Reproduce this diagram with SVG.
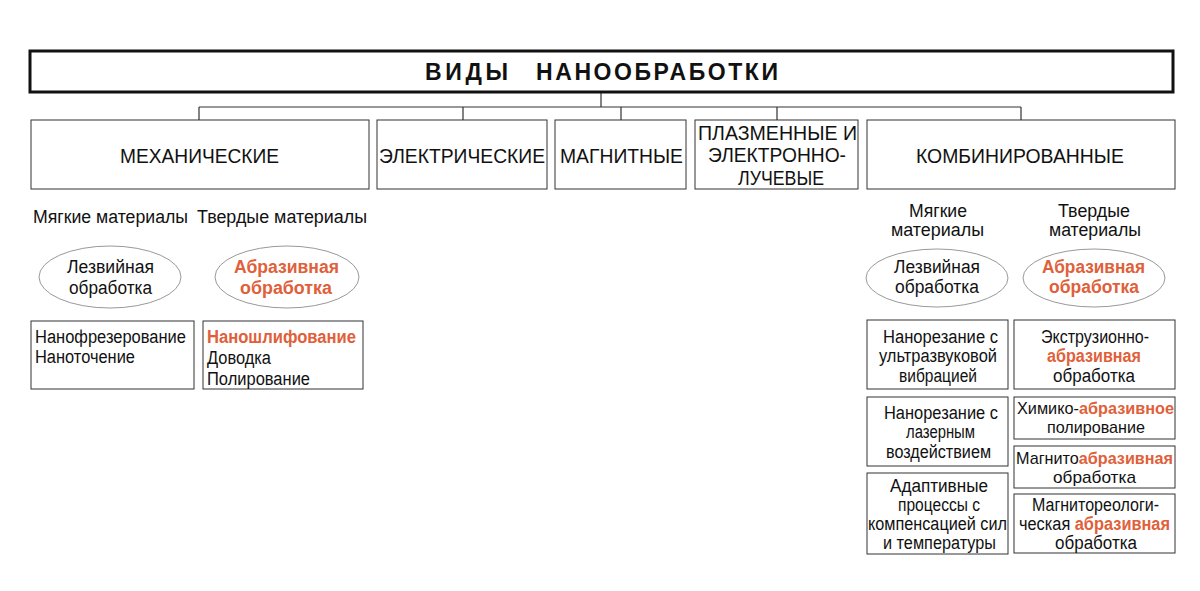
<svg xmlns="http://www.w3.org/2000/svg" width="1200" height="591" viewBox="0 0 1200 591">
<style>
text{font-family:"Liberation Sans",Arial,sans-serif;fill:#111;}
.t{font-size:18px;}
.s{font-size:17px;}
.h{font-size:21px;}
.o{fill:#e0603a;font-weight:bold;}
.box{fill:#fff;stroke:#333;stroke-width:1;}
.ell{fill:#fff;stroke:#999;stroke-width:1;}
.con{fill:none;stroke:#333;stroke-width:1.2;}
</style>
<rect width="1200" height="591" fill="#fff"/>
<g id="connectors">
<path class="con" d="M601 92V107M199 107H1021M199 107V120M463 107V120M621 107V120M777 107V120M1021 107V120"/>
</g>
<g id="title">
<rect x="30" y="51" width="1143" height="41" fill="#fff" stroke="#111" stroke-width="3"/>
<text x="425" y="80" font-size="23" font-weight="bold" textLength="83" lengthAdjust="spacing">ВИДЫ</text>
<text x="536" y="80" font-size="23" font-weight="bold" textLength="242" lengthAdjust="spacing">НАНООБРАБОТКИ</text>
</g>
<g id="mech">
<rect class="box" x="31" y="120" width="338" height="69"/>
<text class="h" x="120" y="163" textLength="159" lengthAdjust="spacingAndGlyphs">МЕХАНИЧЕСКИЕ</text>
</g>
<g id="elec">
<rect class="box" x="377" y="120" width="170" height="69"/>
<text class="h" x="379" y="163" textLength="166" lengthAdjust="spacingAndGlyphs">ЭЛЕКТРИЧЕСКИЕ</text>
</g>
<g id="magn">
<rect class="box" x="555" y="120" width="131" height="69"/>
<text class="h" x="560" y="163" textLength="123" lengthAdjust="spacingAndGlyphs">МАГНИТНЫЕ</text>
</g>
<g id="plasma">
<rect class="box" x="695" y="120" width="163" height="69"/>
<text class="h" x="698" y="140" textLength="159" lengthAdjust="spacingAndGlyphs">ПЛАЗМЕННЫЕ И</text>
<text class="h" x="708" y="162" textLength="138" lengthAdjust="spacingAndGlyphs">ЭЛЕКТРОННО-</text>
<text class="h" x="738" y="185" textLength="86" lengthAdjust="spacingAndGlyphs">ЛУЧЕВЫЕ</text>
</g>
<g id="comb">
<rect class="box" x="867" y="120" width="308" height="69"/>
<text class="h" x="916" y="163" textLength="208" lengthAdjust="spacingAndGlyphs">КОМБИНИРОВАННЫЕ</text>
</g>
<g id="mech-soft-label">
<text class="t" x="33" y="223" textLength="155" lengthAdjust="spacingAndGlyphs">Мягкие материалы</text>
</g>
<g id="mech-hard-label">
<text class="t" x="197" y="223" textLength="170" lengthAdjust="spacingAndGlyphs">Твердые материалы</text>
</g>
<g id="mech-blade">
<ellipse class="ell" cx="110" cy="277" rx="71" ry="31"/>
<text class="t" x="67" y="273" textLength="87" lengthAdjust="spacingAndGlyphs">Лезвийная</text>
<text class="t" x="69" y="294" textLength="83" lengthAdjust="spacingAndGlyphs">обработка</text>
</g>
<g id="mech-abr">
<ellipse class="ell" cx="287" cy="277" rx="72" ry="31"/>
<text class="t o" x="234" y="273" textLength="105" lengthAdjust="spacingAndGlyphs">Абразивная</text>
<text class="t o" x="240" y="294" textLength="92" lengthAdjust="spacingAndGlyphs">обработка</text>
</g>
<g id="mech-soft-list">
<rect class="box" x="31" y="321" width="163" height="68"/>
<text class="t" x="35" y="343" textLength="151" lengthAdjust="spacingAndGlyphs">Нанофрезерование</text>
<text class="t" x="35" y="363" textLength="100" lengthAdjust="spacingAndGlyphs">Наноточение</text>
</g>
<g id="mech-hard-list">
<rect class="box" x="203" y="321" width="160" height="68"/>
<text class="t o" x="207" y="343" textLength="149" lengthAdjust="spacingAndGlyphs">Наношлифование</text>
<text class="t" x="207" y="364" textLength="64" lengthAdjust="spacingAndGlyphs">Доводка</text>
<text class="t" x="207" y="385" textLength="103" lengthAdjust="spacingAndGlyphs">Полирование</text>
</g>
<g id="comb-soft-label">
<text class="t" x="909" y="217" textLength="58" lengthAdjust="spacingAndGlyphs">Мягкие</text>
<text class="t" x="891" y="236" textLength="93" lengthAdjust="spacingAndGlyphs">материалы</text>
</g>
<g id="comb-hard-label">
<text class="t" x="1058" y="217" textLength="72" lengthAdjust="spacingAndGlyphs">Твердые</text>
<text class="t" x="1049" y="236" textLength="92" lengthAdjust="spacingAndGlyphs">материалы</text>
</g>
<g id="comb-blade">
<ellipse class="ell" cx="937" cy="278" rx="71" ry="29"/>
<text class="t" x="894" y="273" textLength="86" lengthAdjust="spacingAndGlyphs">Лезвийная</text>
<text class="t" x="895" y="293" textLength="84" lengthAdjust="spacingAndGlyphs">обработка</text>
</g>
<g id="comb-abr">
<ellipse class="ell" cx="1094" cy="278" rx="71" ry="29"/>
<text class="t o" x="1042" y="273" textLength="103" lengthAdjust="spacingAndGlyphs">Абразивная</text>
<text class="t o" x="1049" y="293" textLength="90" lengthAdjust="spacingAndGlyphs">обработка</text>
</g>
<g id="ultra">
<rect class="box" x="867" y="320" width="141" height="69"/>
<text class="t" x="883" y="343" textLength="115" lengthAdjust="spacingAndGlyphs">Нанорезание с</text>
<text class="t" x="879" y="362" textLength="118" lengthAdjust="spacingAndGlyphs">ультразвуковой</text>
<text class="t" x="899" y="382" textLength="78" lengthAdjust="spacingAndGlyphs">вибрацией</text>
</g>
<g id="laser">
<rect class="box" x="867" y="397" width="141" height="69"/>
<text class="t" x="884" y="419" textLength="114" lengthAdjust="spacingAndGlyphs">Нанорезание с</text>
<text class="t" x="906" y="438" textLength="69" lengthAdjust="spacingAndGlyphs">лазерным</text>
<text class="t" x="886" y="458" textLength="105" lengthAdjust="spacingAndGlyphs">воздействием</text>
</g>
<g id="adapt">
<rect class="box" x="867" y="473" width="141" height="81"/>
<text class="t" x="890" y="492" textLength="98" lengthAdjust="spacingAndGlyphs">Адаптивные</text>
<text class="t" x="898" y="511" textLength="82" lengthAdjust="spacingAndGlyphs">процессы с</text>
<text class="t" x="868" y="530" textLength="139" lengthAdjust="spacingAndGlyphs">компенсацией сил</text>
<text class="t" x="883" y="549" textLength="113" lengthAdjust="spacingAndGlyphs">и температуры</text>
</g>
<g id="extr">
<rect class="box" x="1014" y="320" width="161" height="69"/>
<text class="t" x="1041" y="343" textLength="108" lengthAdjust="spacingAndGlyphs">Экструзионно-</text>
<text class="t o" x="1047" y="362" textLength="94" lengthAdjust="spacingAndGlyphs">абразивная</text>
<text class="t" x="1053" y="382" textLength="82" lengthAdjust="spacingAndGlyphs">обработка</text>
</g>
<g id="chem">
<rect class="box" x="1014" y="397" width="161" height="42"/>
<text class="s" x="1017" y="414" textLength="157" lengthAdjust="spacingAndGlyphs">Химико-<tspan class="o">абразивное</tspan></text>
<text class="s" x="1047" y="433" textLength="98" lengthAdjust="spacingAndGlyphs">полирование</text>
</g>
<g id="magabr">
<rect class="box" x="1014" y="446" width="161" height="42"/>
<text class="s" x="1016" y="464" textLength="157" lengthAdjust="spacingAndGlyphs">Магнито<tspan class="o">абразивная</tspan></text>
<text class="s" x="1053" y="483" textLength="83" lengthAdjust="spacingAndGlyphs">обработка</text>
</g>
<g id="mrheo">
<rect class="box" x="1014" y="494" width="161" height="59"/>
<text class="t" x="1032" y="511" textLength="127" lengthAdjust="spacingAndGlyphs">Магнитореологи-</text>
<text class="t" x="1019" y="530" textLength="151" lengthAdjust="spacingAndGlyphs">ческая <tspan class="o">абразивная</tspan></text>
<text class="t" x="1055" y="549" textLength="82" lengthAdjust="spacingAndGlyphs">обработка</text>
</g>
</svg>
